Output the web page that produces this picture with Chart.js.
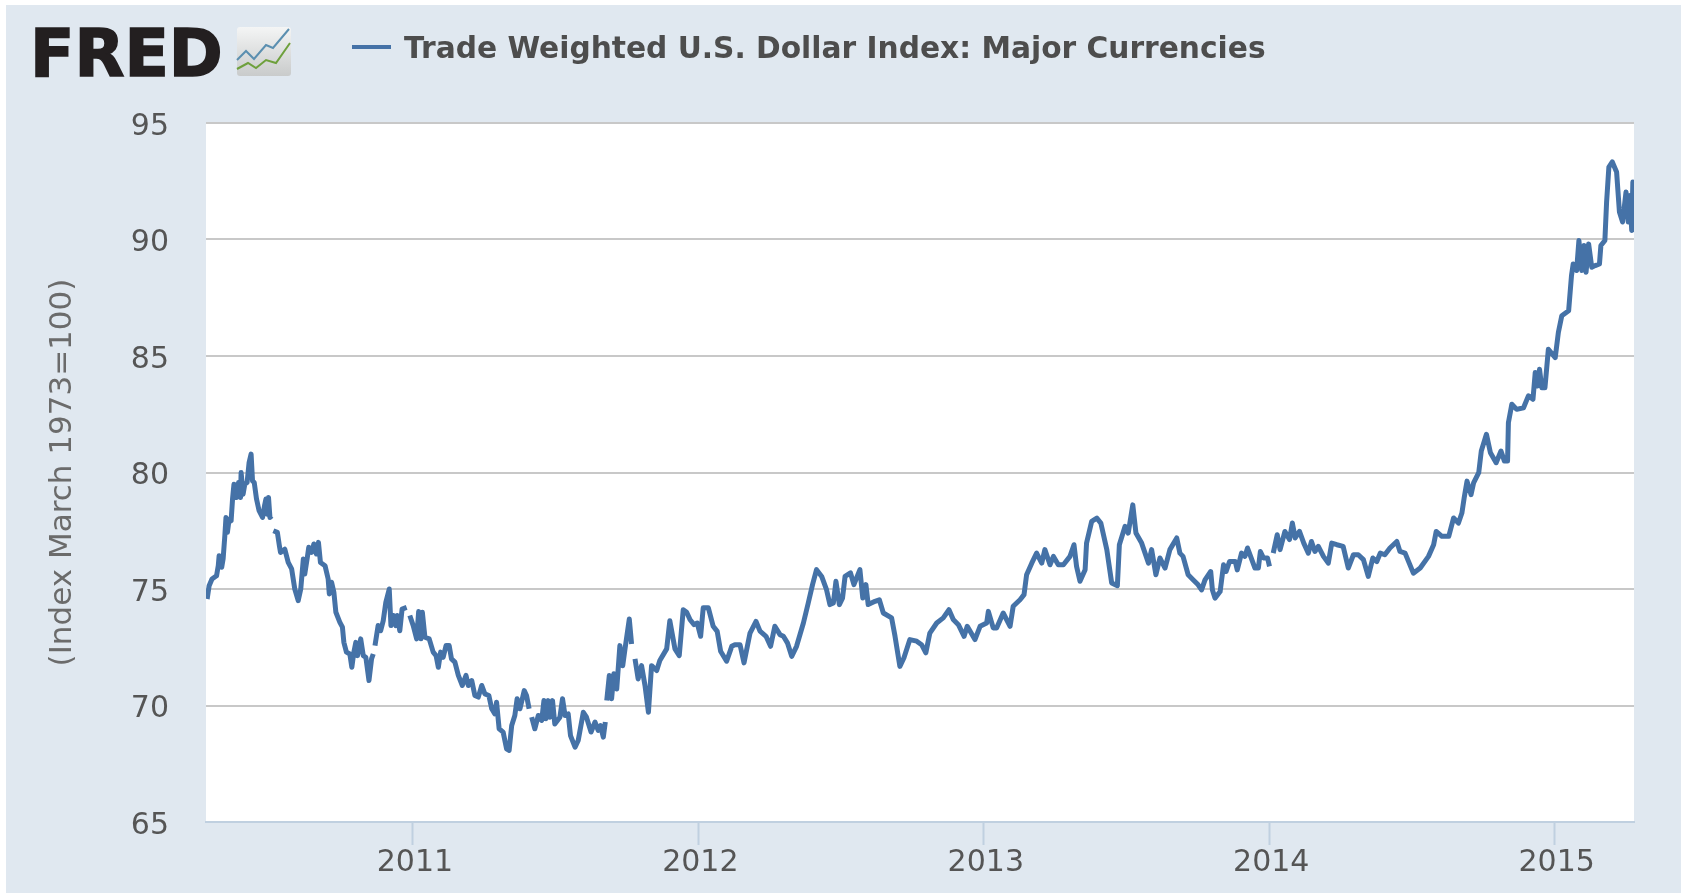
<!DOCTYPE html>
<html lang="en">
  <head>
    <meta charset="UTF-8" />
    <title>Trade Weighted U.S. Dollar Index: Major Currencies</title>
    <script src="https://cdn.jsdelivr.net/npm/chart.js"></script>
    <style>
      html, body { margin: 0; padding: 0; background: #fff; overflow: hidden; }
      #panel { position: absolute; left: 6px; top: 5px; width: 1675px; height: 888px; background: #e0e8f0; }
      #panel canvas { position: absolute; left: 0; top: 0; }
      #logo { position: absolute; left: 24px; top: 12px; font: bold 65px "DejaVu Sans", sans-serif; line-height: 74px; color: #231f20; -webkit-text-stroke: 1.5px #231f20; }
      #icon { position: absolute; left: 230px; top: 22px; }
      #legend { position: absolute; left: 346px; top: 24px; height: 36px; display: flex; align-items: center; font: bold 29.7px "DejaVu Sans", sans-serif; color: #4d4d4d; white-space: nowrap; }
      #legend i { display: block; width: 39px; height: 4px; background: #4572a7; margin-right: 13px; }
    </style>
  </head>
  <body>
    <div id="panel">
      <canvas id="chart" width="1675" height="888"></canvas>
      <div id="logo">FRED</div>
      <svg id="icon" width="56" height="50" viewBox="0 0 56 50">
        <defs><linearGradient id="tile" x1="0" y1="0" x2="0" y2="1"><stop offset="0" stop-color="#f4f5f5" /><stop offset="1" stop-color="#c9cbcb" /></linearGradient></defs>
        <rect x="1" y="0" width="54" height="49" rx="3" fill="url(#tile)" />
        <polyline points="1,33 10,24 18,32 30,18 37,21 53,2" fill="none" stroke="#5b8fb0" stroke-width="2" />
        <polyline points="1,42 12,36 20,41 30,33 40,36 54,16" fill="none" stroke="#6ea03c" stroke-width="2" />
      </svg>
      <div id="legend"><i></i><span>Trade Weighted U.S. Dollar Index: Major Currencies</span></div>
    </div>

    <script>
      const seriesLabel = "Trade Weighted U.S. Dollar Index: Major Currencies";
      const yAxisTitle = "(Index March 1973=100)";
      const yearTicks = [2011, 2012, 2013, 2014, 2015];

      // decimal years; a null value marks a break in the line
      const dates = [
        2010.279, 2010.286, 2010.296, 2010.312, 2010.318, 2010.321, 2010.33, 2010.335, 2010.341, 2010.345, 2010.35, 2010.356, 2010.363, 2010.368, 2010.373, 2010.382, 2010.389, 2010.396, 2010.398, 2010.405, 2010.411, 2010.419, 2010.426, 2010.433, 2010.438, 2010.444, 2010.452, 2010.461, 2010.473, 2010.48, 2010.485, 2010.49, 2010.494, 2010.499, 2010.505,
        2010.508,
        2010.511, 2010.525, 2010.532, 2010.536, 2010.551, 2010.563, 2010.575, 2010.586, 2010.598, 2010.607, 2010.616, 2010.621, 2010.63, 2010.635, 2010.645, 2010.653, 2010.662, 2010.669, 2010.676, 2010.692, 2010.703, 2010.707, 2010.715, 2010.723, 2010.73, 2010.744, 2010.753, 2010.758, 2010.767, 2010.779, 2010.786, 2010.793, 2010.8, 2010.806, 2010.817, 2010.826, 2010.835, 2010.846, 2010.855, 2010.861,
        2010.864,
        2010.867, 2010.878, 2010.887, 2010.896, 2010.905, 2010.917, 2010.923, 2010.931, 2010.94, 2010.945, 2010.954, 2010.962, 2010.978,
        2010.983,
        2010.989, 2011.001, 2011.013, 2011.02, 2011.028, 2011.033, 2011.042, 2011.057, 2011.071, 2011.081, 2011.089, 2011.097, 2011.106, 2011.116, 2011.127, 2011.135, 2011.147, 2011.159, 2011.173, 2011.186, 2011.194, 2011.206, 2011.217, 2011.229, 2011.241, 2011.252, 2011.266, 2011.276, 2011.287, 2011.293, 2011.302, 2011.316, 2011.328, 2011.337, 2011.346, 2011.357, 2011.365, 2011.375, 2011.39, 2011.398, 2011.407,
        2011.411,
        2011.416, 2011.427, 2011.439, 2011.451, 2011.459, 2011.466, 2011.474, 2011.48, 2011.489, 2011.497, 2011.515, 2011.524, 2011.533, 2011.544, 2011.552, 2011.568, 2011.579, 2011.597, 2011.608, 2011.624, 2011.638, 2011.649, 2011.657, 2011.667, 2011.674,
        2011.676,
        2011.679, 2011.688, 2011.696, 2011.704, 2011.714, 2011.725, 2011.735, 2011.743, 2011.758, 2011.766,
        2011.772,
        2011.778, 2011.789, 2011.801, 2011.813, 2011.825, 2011.836, 2011.854, 2011.865, 2011.889, 2011.9, 2011.918, 2011.933, 2011.947, 2011.959, 2011.971, 2011.985, 2011.996,
        2012.008, 2012.017, 2012.035, 2012.052, 2012.066, 2012.078, 2012.099, 2012.117, 2012.128, 2012.146, 2012.16, 2012.181, 2012.202, 2012.216, 2012.237, 2012.253, 2012.268, 2012.286, 2012.298, 2012.312, 2012.327, 2012.344, 2012.368, 2012.385, 2012.4, 2012.414, 2012.432, 2012.449, 2012.461, 2012.473, 2012.482, 2012.494, 2012.505, 2012.514, 2012.533, 2012.545, 2012.566, 2012.576, 2012.587, 2012.595, 2012.619, 2012.634, 2012.648, 2012.677, 2012.689, 2012.706, 2012.72, 2012.741, 2012.765, 2012.782, 2012.797, 2012.811, 2012.835, 2012.858, 2012.878, 2012.893, 2012.911, 2012.931, 2012.942, 2012.969, 2012.987,
        2013.01, 2013.016, 2013.033, 2013.045, 2013.068, 2013.092, 2013.103, 2013.127, 2013.141, 2013.15, 2013.168, 2013.185, 2013.203, 2013.214, 2013.232, 2013.244, 2013.261, 2013.279, 2013.302, 2013.316, 2013.325, 2013.337, 2013.355, 2013.36, 2013.378, 2013.396, 2013.41, 2013.431, 2013.448, 2013.468, 2013.475, 2013.495, 2013.506, 2013.522, 2013.533, 2013.553, 2013.577, 2013.588, 2013.603, 2013.617, 2013.635, 2013.652, 2013.676, 2013.687,
        2013.698, 2013.716, 2013.734, 2013.751, 2013.763, 2013.775, 2013.795, 2013.801, 2013.81, 2013.828, 2013.84, 2013.849, 2013.861, 2013.881, 2013.888, 2013.903, 2013.915, 2013.924, 2013.939, 2013.95, 2013.962, 2013.969, 2013.98, 2013.994, 2014.001,
        2014.007,
        2014.014, 2014.028, 2014.038, 2014.055, 2014.071, 2014.081, 2014.091, 2014.106, 2014.121, 2014.137, 2014.148, 2014.16, 2014.172, 2014.19, 2014.207, 2014.219, 2014.237, 2014.259, 2014.277, 2014.295, 2014.312, 2014.33, 2014.347, 2014.363, 2014.377, 2014.389, 2014.405, 2014.423, 2014.447, 2014.458, 2014.476, 2014.505, 2014.529, 2014.558, 2014.576, 2014.585, 2014.605, 2014.629, 2014.646, 2014.663, 2014.675, 2014.683, 2014.693, 2014.707, 2014.716, 2014.734, 2014.743, 2014.761, 2014.775, 2014.795, 2014.812, 2014.824, 2014.835, 2014.838, 2014.85, 2014.867, 2014.891, 2014.908, 2014.924, 2014.932, 2014.94, 2014.947, 2014.955, 2014.966, 2014.978,
        2015.002, 2015.013, 2015.025, 2015.049, 2015.059, 2015.065, 2015.077, 2015.085, 2015.095, 2015.103, 2015.11, 2015.119, 2015.13, 2015.142, 2015.157, 2015.162, 2015.176, 2015.182, 2015.19, 2015.202, 2015.217, 2015.227, 2015.238, 2015.25, 2015.258, 2015.264, 2015.27, 2015.274, 2015.279,
      ];
      const values = [
        74.57, 75.14, 75.43, 75.57, 76.0, 76.43, 75.93, 76.29, 77.29, 78.07, 77.43, 78.0, 77.93, 78.86, 79.5, 78.93, 79.57, 78.93, 80.0, 79.07, 79.5, 79.57, 80.43, 80.79, 79.64, 79.57, 78.86, 78.36, 78.07, 78.57, 78.86, 78.21, 78.93, 78.07, 78.14,
        null,
        77.5, 77.43, 76.86, 76.57, 76.71, 76.14, 75.86, 75.0, 74.5, 75.0, 76.29, 75.64, 76.36, 76.79, 76.57, 76.93, 76.5, 77.0, 76.14, 76.0, 75.43, 74.79, 75.29, 74.86, 74.0, 73.57, 73.36, 72.71, 72.29, 72.21, 71.64, 72.29, 72.71, 72.14, 72.86, 72.14, 72.07, 71.07, 72.0, 72.21,
        null,
        72.57, 73.43, 73.21, 73.64, 74.43, 75.0, 73.43, 73.86, 73.43, 73.86, 73.21, 74.14, 74.21,
        null,
        73.86, 73.43, 72.86, 74.03, 72.86, 74.0, 72.93, 72.86, 72.29, 72.14, 71.64, 72.29, 72.07, 72.57, 72.57, 72.0, 71.86, 71.29, 70.86, 71.29, 70.86, 71.07, 70.43, 70.36, 70.86, 70.5, 70.43, 69.86, 69.64, 70.14, 69.0, 68.86, 68.14, 68.07, 69.14, 69.57, 70.29, 69.86, 70.64, 70.43, 69.86,
        null,
        69.5, 69.0, 69.57, 69.36, 70.21, 69.43, 70.21, 69.5, 70.21, 69.21, 69.5, 70.29, 69.57, 69.64, 68.71, 68.21, 68.5, 69.71, 69.5, 68.86, 69.29, 68.93, 69.14, 68.64, 69.29,
        null,
        70.21, 71.29, 70.29, 71.36, 70.71, 72.57, 71.71, 72.43, 73.71, 72.64,
        null,
        72.0, 71.14, 71.71, 70.86, 69.71, 71.71, 71.5, 71.93, 72.43, 73.64, 72.43, 72.14, 74.11, 74.0, 73.68, 73.47, 73.54,
        72.97, 74.19, 74.19, 73.4, 73.18, 72.33, 71.9, 72.54, 72.61, 72.61, 71.83, 73.11, 73.61, 73.19, 72.97, 72.54, 73.4, 73.04, 72.97, 72.69, 72.11, 72.54, 73.54, 74.4, 75.19, 75.83, 75.54, 74.97, 74.33, 74.4, 75.33, 74.33, 74.61, 75.54, 75.69, 75.19, 75.83, 74.61, 75.19, 74.33, 74.47, 74.54, 73.97, 73.76, 72.97, 71.68, 72.04, 72.83, 72.76, 72.61, 72.26, 73.11, 73.54, 73.76, 74.11, 73.69, 73.47, 72.97, 73.4, 72.83, 73.4,
        73.54, 74.04, 73.33, 73.33, 73.97, 73.4, 74.26, 74.54, 74.76, 75.61, 76.11, 76.54, 76.11, 76.69, 76.04, 76.4, 76.04, 76.04, 76.4, 76.9, 75.97, 75.33, 75.83, 76.97, 77.9, 78.04, 77.83, 76.69, 75.26, 75.14, 76.9, 77.69, 77.4, 78.61, 77.4, 76.97, 76.11, 76.69, 75.61, 76.33, 75.9, 76.69, 77.19, 76.54,
        76.4, 75.61, 75.39, 75.18, 74.96, 75.39, 75.75, 74.96, 74.61, 74.89, 76.04, 75.75, 76.18, 76.18, 75.82, 76.54, 76.4, 76.76, 76.26, 75.9, 75.9, 76.61, 76.33, 76.33, 75.97,
        null,
        76.54, 77.33, 76.69, 77.47, 77.12, 77.83, 77.19, 77.47, 76.97, 76.54, 77.04, 76.61, 76.83, 76.4, 76.11, 76.97, 76.9, 76.83, 75.9, 76.47, 76.47, 76.26, 75.54, 76.33, 76.18, 76.54, 76.47, 76.76, 77.04, 76.61, 76.54, 75.68, 75.9, 76.4, 76.9, 77.47, 77.26, 77.26, 78.05, 77.83, 78.26, 78.91, 79.63, 79.05, 79.55, 79.99, 80.92, 81.64, 80.85, 80.42, 80.92, 80.49, 80.49, 82.14, 82.93, 82.71, 82.78, 83.29, 83.14, 84.29, 83.71, 84.43, 83.64, 83.64, 85.29,
        84.93, 86.01, 86.73, 86.94, 88.45, 88.95, 88.67, 89.96, 88.67, 89.74, 88.59, 89.81, 88.81, 88.88, 88.95, 89.74, 89.96, 91.61, 93.11, 93.33, 92.9, 91.18, 90.75, 92.04, 90.75, 91.89, 90.39, 92.47, 90.32,
      ];

      new Chart(document.getElementById("chart"), {
        type: "line",
        data: {
          datasets: [
            {
              label: seriesLabel,
              data: dates.map((d, i) => ({ x: d, y: values[i] })),
              borderColor: "#4572a7",
              borderWidth: 5,
              borderJoinStyle: "round",
              pointRadius: 0,
              tension: 0,
              spanGaps: false,
            },
          ],
        },
        options: {
          responsive: false,
          animation: false,
          layout: { padding: { top: 118, right: 47, left: 0, bottom: 0 } },
          plugins: {
            legend: { display: false },
            tooltip: { enabled: false },
          },
          scales: {
            x: {
              type: "linear",
              min: 2010.275,
              max: 2015.278,
              afterBuildTicks: (axis) => {
                axis.ticks = yearTicks.map((y) => ({ value: y }));
              },
              afterFit: (axis) => {
                axis.height = 71;
              },
              border: { color: "#c0d0e0", width: 2 },
              grid: { drawOnChartArea: false, drawTicks: true, tickLength: 23, tickColor: "#c0d0e0", tickWidth: 2 },
              ticks: {
                color: "#555",
                font: { family: "'DejaVu Sans', sans-serif", size: 30 },
                padding: 0,
                labelOffset: 2,
                maxRotation: 0,
                autoSkip: false,
                callback: (v) => String(v),
              },
            },
            y: {
              min: 65,
              max: 95,
              afterFit: (axis) => {
                axis.width = 200;
              },
              border: { display: false },
              grid: { color: "#c8c8c8", lineWidth: 2, drawTicks: false },
              ticks: {
                stepSize: 5,
                color: "#555",
                padding: 37,
                labelOffset: 4,
                font: { family: "'DejaVu Sans', sans-serif", size: 30 },
              },
              title: {
                display: true,
                text: yAxisTitle,
                color: "#6b6b6b",
                padding: { top: 38, bottom: 0 },
                font: { family: "'DejaVu Sans', sans-serif", size: 31 },
              },
            },
          },
        },
        plugins: [
          {
            id: "chartBg",
            beforeDraw(chart) {
              const { ctx, chartArea: a } = chart;
              ctx.save();
              ctx.fillStyle = "#fff";
              ctx.fillRect(a.left, a.top, a.right - a.left, a.bottom - a.top);
              ctx.restore();
            },
          },
        ],
      });
    </script>
  </body>
</html>
